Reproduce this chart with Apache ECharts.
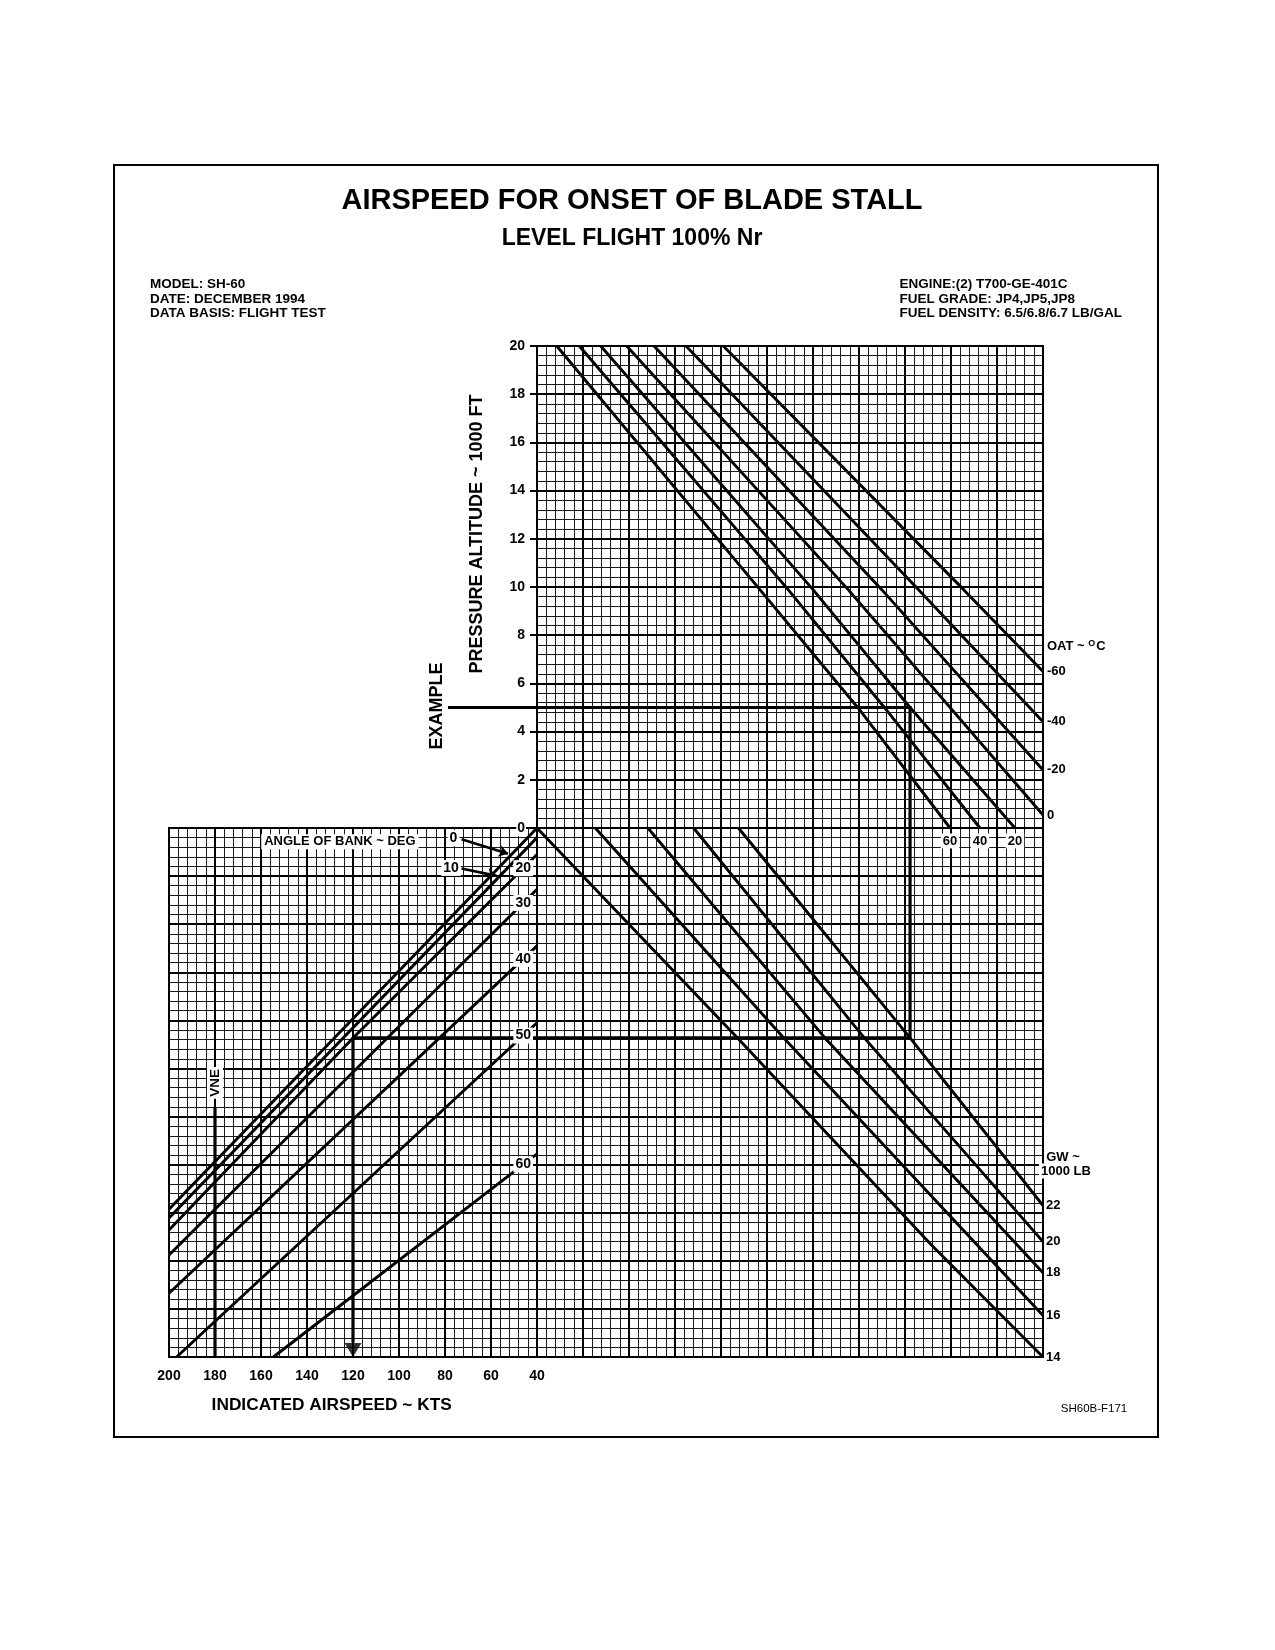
<!DOCTYPE html>
<html><head><meta charset="utf-8">
<script src="https://cdn.jsdelivr.net/npm/echarts@6/dist/echarts.min.js"></script>
<style>html,body{margin:0;padding:0;background:#fff}#c{width:1275px;height:1650px}</style>
</head><body><div id="c"></div>
<script>
// ---------------- DATA (axis units) ----------------
// lower x axis: indicated airspeed (kts); upper panel shares the same horizontal reference scale
const airspeedTicks = [200, 180, 160, 140, 120, 100, 80, 60, 40];
const altitudeTicks = [0, 2, 4, 6, 8, 10, 12, 14, 16, 18, 20];

// OAT lines in upper panel: [reference x, pressure altitude (1000 ft)]
const oatTemps = ['60', '40', '20', '0', '-20', '-40', '-60'];
const oat60  = [[31.4, 20], [-57.0, 9.88], [-99.7, 4.97], [-139.6, 0]];
const oat40  = [[21.6, 20], [-69.3, 9.88], [-111.3, 4.97], [-152.6, 0]];
const oat20  = [[12.3, 20], [-80.1, 9.88], [-122.2, 5.0], [-167.8, 0]];
const oat0   = [[1.0, 20], [-95.4, 9.88], [-180, 0.54]];
const oatM20 = [[-10.9, 20], [-110.0, 9.88], [-180, 2.41]];
const oatM40 = [[-24.8, 20], [-126.0, 9.88], [-180, 4.41]];
const oatM60 = [[-41.0, 20], [-145.6, 9.88], [-180, 6.49]];

// Gross weight lines in lower panel: [reference x, reference y]
const gwWeights = ['14', '16', '18', '20', '22'];
const gw14 = [[40, 0], [-47.2, -8.73], [-131.5, -17.34], [-180, -22]];
const gw16 = [[14.65, 0], [-67.3, -8.73], [-180, -20.27]];
const gw18 = [[-8.2, 0], [-85.2, -8.73], [-180, -18.5]];
const gw20 = [[-28.1, 0], [-102.3, -8.73], [-180, -17.2]];
const gw22 = [[-47.6, 0], [-122.2, -8.73], [-180, -15.7]];

// Angle of bank lines in lower panel: [airspeed kts, reference y]
const bankAngles = ['0', '10', '20', '30', '40', '50', '60'];
const bank0  = [[40, 0], [200, -15.86]];
const bank10 = [[40, -0.4], [200, -16.22]];
const bank20 = [[40, -1.1], [120, -8.73], [200, -16.72]];
const bank30 = [[40, -2.55], [200, -17.76]];
const bank40 = [[40, -4.9], [200, -19.35]];
const bank50 = [[40, -8.1], [196.7, -22]];
const bank60 = [[40, -13.55], [154.6, -22]];

// Example path and VNE
const exampleUpper = [[78.7, 5], [-122.2, 5], [-122.2, 0]];
const exampleLower = [[-122.2, 0], [-122.2, -8.73], [120, -8.73], [120, -21.4]];
const exampleArrow = [[120, -22]];
const vneLine = [[180, -11.6], [180, -22]];

// ---------------- CHART ----------------
const FONT = '"Liberation Sans", Arial, Helvetica, sans-serif';
const B = (s) => 'bold ' + s + 'px ' + FONT;
const chart = echarts.init(document.getElementById('c'), null, {renderer: 'canvas', width: 1275, height: 1650});

const oatLines = [oat60, oat40, oat20, oat0, oatM20, oatM40, oatM60];
const gwLines = [gw14, gw16, gw18, gw20, gw22];
const bankLines = [bank0, bank10, bank20, bank30, bank40, bank50, bank60];

function yAt(line, x) {
  for (let i = 0; i < line.length - 1; i++) {
    const [x1, y1] = line[i], [x2, y2] = line[i + 1];
    if ((x - x1) * (x - x2) <= 0) return y1 + (y2 - y1) * (x - x1) / (x2 - x1);
  }
  return line[0][1];
}

const major = {show: true, lineStyle: {color: '#000', width: 2}};
const minor = {show: true, lineStyle: {color: '#1a1a1a', width: 1}};

function curve(data, gi, extra) {
  return Object.assign({
    type: 'line', xAxisIndex: gi, yAxisIndex: gi, data: data, symbol: 'none', showSymbol: false,
    silent: true, z: 3, lineStyle: {color: '#000', width: 2.9}
  }, extra || {});
}
// polyline through data points, not clipped to the grid
function pathSeries(data, gi, width) {
  return {
    type: 'custom', coordinateSystem: 'cartesian2d', xAxisIndex: gi, yAxisIndex: gi, silent: true, clip: false, z: 4,
    data: data,
    renderItem: (params, api) => {
      if (params.dataIndex !== 0) return null;
      const pts = data.map(d => api.coord(d));
      return {type: 'polyline', shape: {points: pts}, style: {stroke: '#000', lineWidth: width, fill: null, lineJoin: 'miter'}};
    }
  };
}
// text labels anchored at data points
function labelSeries(gi, items, opt) {
  opt = opt || {};
  return {
    type: 'custom', coordinateSystem: 'cartesian2d', xAxisIndex: gi, yAxisIndex: gi, silent: true, clip: false, z: opt.z || 8,
    data: items.map(it => [it[0], it[1]]),
    renderItem: (params, api) => {
      const it = items[params.dataIndex];
      const p = api.coord([it[0], it[1]]);
      const style = {text: it[2], font: opt.font || B(13), fill: '#000', align: opt.align || 'center', verticalAlign: 'middle'};
      if (opt.bg) { style.backgroundColor = opt.bg; style.padding = opt.padding || [1, 2]; }
      if (opt.rich) style.rich = opt.rich;
      return {type: 'text', x: p[0] + (opt.dx || 0), y: p[1] + (opt.dy || 0), rotation: opt.rotation || 0, style: style, z2: 10};
    }
  };
}

const series = [];
oatLines.forEach(l => series.push(curve(l, 0)));
gwLines.forEach(l => series.push(curve(l, 1)));
bankLines.forEach(l => series.push(curve(l, 1)));
series.push(pathSeries(exampleUpper, 0, 3.2));
series.push(curve(exampleLower, 1, {lineStyle: {color: '#000', width: 3.2}}));
series.push(curve(vneLine, 1, {lineStyle: {color: '#000', width: 3.2}}));

// arrow head of example
series.push({type: 'scatter', xAxisIndex: 1, yAxisIndex: 1, data: exampleArrow, symbol: 'triangle',
  symbolRotate: 180, symbolSize: [17, 14], symbolOffset: [0, -7], itemStyle: {color: '#000'}, z: 7, silent: true});

// OAT labels
const oatRight = [], oatBottom = [];
oatLines.forEach((l, i) => {
  const last = l[l.length - 1];
  if (last[0] <= -180) oatRight.push([last[0], last[1], oatTemps[i]]);
  else oatBottom.push([last[0], -0.54, oatTemps[i]]);
});
series.push(labelSeries(0, oatRight, {align: 'left', dx: 4}));
series.push(labelSeries(0, [[-180, 7.52, 'OAT ~ {s|O}C']], {align: 'left', dx: 4,
  rich: {s: {font: B(9), fill: '#000', padding: [0, 1, 7, 0]}}}));
series.push(labelSeries(1, oatBottom, {bg: '#fff', padding: [1, 2]}));

// GW labels
series.push(labelSeries(1, gwLines.map((l, i) => {
  const last = l[l.length - 1];
  return [last[0], last[1], gwWeights[i]];
}), {align: 'left', dx: 3}));

// bank angle labels (on lines near the right end)
const bankLabelItems = [];
bankLines.forEach((l, i) => { if (i >= 2) bankLabelItems.push([46, yAt(l, 46), bankAngles[i]]); });
bankLabelItems.push([76.3, -0.42, bankAngles[0]]);
bankLabelItems.push([77.4, -1.66, bankAngles[1]]);
series.push(labelSeries(1, bankLabelItems, {bg: '#fff', padding: [1, 2], font: B(14)}));
series.push(labelSeries(1, [[125.7, -0.57, 'ANGLE OF BANK ~ DEG']], {bg: '#fff', padding: [1, 3]}));

// VNE label
series.push(labelSeries(1, [[180, -10.6, 'VNE']], {rotation: Math.PI / 2, font: B(13.5), bg: '#fff', padding: [1, 2]}));

// pointer arrows for 0 and 10 deg bank
series.push({
  type: 'lines', coordinateSystem: 'cartesian2d', xAxisIndex: 1, yAxisIndex: 1, silent: true, z: 7,
  symbol: ['none', 'arrow'], symbolSize: 9,
  lineStyle: {color: '#000', width: 2.6, opacity: 1},
  data: [
    {coords: [[72.8, -0.47], [52.6, yAt(bank0, 52.6) + 0.18]]},
    {coords: [[72.8, -1.68], [57.6, yAt(bank10, 57.6) + 0.15]]}
  ]
});

function txt(x, y, text, font, extra) {
  return Object.assign({type: 'text', x: x, y: y, z: 100, silent: true,
    style: Object.assign({text: text, font: font, fill: '#000', align: 'center', verticalAlign: 'middle'}, (extra && extra.style) || {})},
    extra && extra.rotation !== undefined ? {rotation: extra.rotation} : {});
}

const option = {
  animation: false,
  backgroundColor: '#fff',
  textStyle: {fontFamily: FONT},
  grid: [
    {left: 537, top: 346, width: 506, height: 482, show: true, borderColor: '#000', borderWidth: 2, outerBoundsMode: 'none', containLabel: false},
    {left: 169, top: 828, width: 874, height: 529, show: true, borderColor: '#000', borderWidth: 2, outerBoundsMode: 'none', containLabel: false}
  ],
  xAxis: [
    {gridIndex: 0, type: 'value', min: -180, max: 40, interval: 20, inverse: true,
      axisLine: {show: false, onZero: false}, axisTick: {show: false}, axisLabel: {show: false},
      splitLine: major, minorTick: {show: false, splitNumber: 5}, minorSplitLine: minor},
    {gridIndex: 1, type: 'value', min: -180, max: 200, interval: 20, inverse: true,
      axisLine: {show: false, onZero: false}, axisTick: {show: false},
      axisLabel: {show: true, margin: 12, fontSize: 14, fontWeight: 'bold', fontFamily: FONT, color: '#000',
        formatter: v => airspeedTicks.indexOf(Math.round(v)) >= 0 ? String(Math.round(v)) : ''},
      splitLine: major, minorTick: {show: false, splitNumber: 5}, minorSplitLine: minor}
  ],
  yAxis: [
    {gridIndex: 0, type: 'value', min: 0, max: 20, interval: 2, z: 20,
      axisLine: {show: false, onZero: false},
      axisTick: {show: true, length: 7, lineStyle: {color: '#000', width: 2}},
      axisLabel: {show: true, margin: 11, fontSize: 14, fontWeight: 'bold', fontFamily: FONT, color: '#000',
        backgroundColor: '#fff', padding: [1, 1],
        formatter: v => altitudeTicks.indexOf(Math.round(v)) >= 0 ? String(Math.round(v)) : ''},
      splitLine: major, minorTick: {show: false, splitNumber: 5}, minorSplitLine: minor},
    {gridIndex: 1, type: 'value', min: -22, max: 0, interval: 2,
      axisLine: {show: false, onZero: false}, axisTick: {show: false}, axisLabel: {show: false},
      splitLine: major, minorTick: {show: false, splitNumber: 5}, minorSplitLine: minor}
  ],
  series: series,
  graphic: [
    {type: 'rect', shape: {x: 114, y: 165, width: 1044, height: 1272}, style: {fill: 'none', stroke: '#000', lineWidth: 2}, z: 100, silent: true},
    txt(632, 201, 'AIRSPEED FOR ONSET OF BLADE STALL', B(29)),
    txt(632, 239, 'LEVEL FLIGHT 100% Nr', B(23)),
    txt(150, 284, 'MODEL: SH-60', B(13.5), {style: {align: 'left'}}),
    txt(150, 299, 'DATE: DECEMBER 1994', B(13.5), {style: {align: 'left'}}),
    txt(150, 313.5, 'DATA BASIS: FLIGHT TEST', B(13.5), {style: {align: 'left'}}),
    txt(899.5, 284, 'ENGINE:(2) T700-GE-401C', B(13.5), {style: {align: 'left'}}),
    txt(899.5, 299, 'FUEL GRADE: JP4,JP5,JP8', B(13.5), {style: {align: 'left'}}),
    txt(899.5, 313.5, 'FUEL DENSITY: 6.5/6.8/6.7 LB/GAL', B(13.5), {style: {align: 'left'}}),
    txt(477, 534, 'PRESSURE ALTITUDE ~ 1000 FT', B(18), {rotation: Math.PI / 2}),
    txt(437, 706, 'EXAMPLE', B(18), {rotation: Math.PI / 2}),
    txt(331.7, 1405, 'INDICATED AIRSPEED ~ KTS', B(17.3)),
    txt(1094, 1409, 'SH60B-F171', '11.5px ' + FONT),
    txt(1063, 1157, 'GW ~', B(13), {style: {backgroundColor: '#fff', padding: [1, 2]}}),
    txt(1066, 1171, '1000 LB', B(13), {style: {backgroundColor: '#fff', padding: [1, 2]}})
  ]
};
chart.setOption(option);
</script>
</body></html>
